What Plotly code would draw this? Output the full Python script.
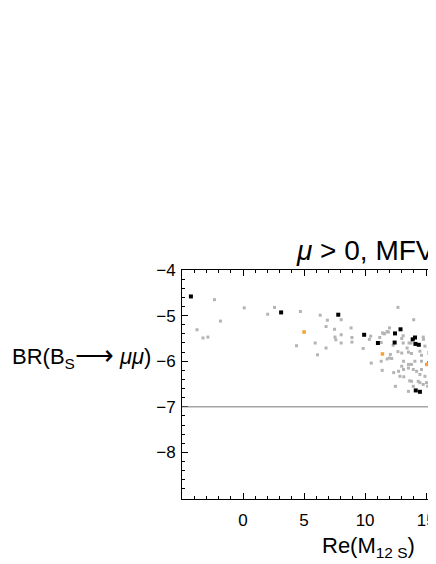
import plotly.graph_objects as go

# pontos cinza (todos os modelos)
cinza_x = [-2.34, 0.1, -1.85, -3.77, -3.28, -2.88,
           2.58, 2.02, 4.7, 6.32, 6.91, 6.8, 7.5, 7.53, 7.6, 5.91, 4.38, 6.8, 6.1,
           8.04, 8.85, 8.04, 8.92, 8.04, 8.92, 10.46, 10.35, 11.32, 11.43, 11.6, 11.8, 9.84,
           11.8, 11.32, 10.5, 11.4, 11.2, 11.53, 11.91, 11.99, 12.18,
           12.69, 13.98, 12.0, 13.12, 13.0, 13.12, 12.3, 14.76, 13.6, 13.76, 15.3, 13.44, 14.9,
           14.78, 15.35,
           12.69, 12.07, 13.0, 13.55, 13.8, 14.49, 14.62, 13.15, 13.55, 13.8, 14.08, 14.62,
           13.0, 13.15, 13.55, 13.95, 14.22, 14.62, 12.74, 12.34, 14.49, 14.9, 14.35, 14.49,
           14.76, 15.03, 13.8, 13.95, 13.55, 12.48, 15.3, 12.85, 13.17, 13.65, 15.13]
cinza_y = [-4.65, -4.83, -5.12, -5.31, -5.49, -5.47,
           -4.82, -4.97, -4.91, -4.99, -5.1, -5.24, -5.3, -5.47, -5.53, -5.6, -5.66, -5.71, -5.86,
           -5.09, -5.27, -5.42, -5.48, -5.6, -5.58, -5.45, -5.52, -5.59, -5.38, -5.4, -5.35, -5.72,
           -5.95, -6.0, -6.04, -6.2, -5.48, -5.39, -5.36, -5.93, -5.94,
           -4.82, -5.09, -5.27, -5.44, -5.5, -5.6, -5.65, -5.47, -5.6, -5.6, -5.51, -5.71, -5.67,
           -5.52, -5.52,
           -5.79, -5.85, -5.82, -5.8, -5.83, -5.78, -5.87, -6.0, -6.07, -6.07, -6.0, -6.0,
           -6.11, -6.18, -6.15, -6.18, -6.22, -6.18, -6.22, -6.25, -6.29, -6.33, -6.44, -6.47,
           -6.51, -6.47, -6.44, -6.55, -6.66, -6.55, -6.55, -6.33, -6.34, -6.43, -6.55]

# pontos pretos
preto_x = [-4.27, 3.12, 7.8, 9.92, 11.05, 12.45, 12.9, 12.42, 13.9, 14.09, 14.12, 14.4,
           15.3, 15.28, 14.15, 14.49]
preto_y = [-4.58, -4.93, -4.98, -5.42, -5.6, -5.39, -5.3, -5.59, -5.52, -5.48, -5.62, -5.64,
           -5.82, -6.04, -6.64, -6.67]

# pontos laranja
laranja_x = [5.0, 11.42, 15.05, 15.37]
laranja_y = [-5.36, -5.84, -6.07, -6.72]

limite = -7

fig = go.Figure()
fig.add_trace(go.Scatter(x=cinza_x, y=cinza_y, mode='markers',
                         marker=dict(symbol='square', size=3, color='#b4b4b4')))
fig.add_trace(go.Scatter(x=preto_x, y=preto_y, mode='markers',
                         marker=dict(symbol='square', size=4, color='black')))
fig.add_trace(go.Scatter(x=laranja_x, y=laranja_y, mode='markers',
                         marker=dict(symbol='square', size=3.5, color='#f7a030')))

fig.add_shape(type='line', xref='paper', x0=0, x1=1, yref='y', y0=limite, y1=limite,
              line=dict(color='#777777', width=1))

# a pagina tem margem de 8px no body, por isso tudo vai 8px pra cima/esquerda
fonte = 'Liberation Sans, Arial, sans-serif'
fig.update_layout(
    width=436, height=564,
    margin=dict(l=174, r=8, t=262, b=73),
    paper_bgcolor='white', plot_bgcolor='white',
    showlegend=False,
    font=dict(family=fonte, size=17, color='black'),
)
fig.update_xaxes(range=[-5, 15.48], showgrid=False, zeroline=False,
                 showline=True, linecolor='black', linewidth=1, mirror='ticks',
                 ticks='inside', ticklen=6, tickcolor='black',
                 tickvals=[0, 5, 10, 15], ticklabelstandoff=6, ticklabeloverflow='allow',
                 minor=dict(dtick=1, tick0=0, ticks='inside', ticklen=3, tickcolor='black'))
fig.update_yaxes(range=[-9.02, -4], showgrid=False, zeroline=False,
                 showline=True, linecolor='black', linewidth=1,
                 ticks='inside', ticklen=6, tickcolor='black',
                 tickvals=[-8, -7, -6, -5, -4], ticklabelstandoff=2, ticklabeloverflow='allow',
                 minor=dict(dtick=0.2, tick0=0, ticks='inside', ticklen=3, tickcolor='black'))

fig.add_annotation(text='<i>μ</i> > 0, MFV', xref='paper', yref='paper',
                   x=0.449, y=1.01, xanchor='left', yanchor='bottom', showarrow=False,
                   font=dict(size=28))
fig.add_annotation(text='BR(B<sub>S</sub><span style="font-size:27px">⟶</span> <i>μμ</i>)',
                   xref='paper', yref='paper',
                   x=-0.116, y=0.625, xanchor='right', yanchor='middle', showarrow=False,
                   font=dict(size=22))
fig.add_annotation(text='Re(M<sub>12 S</sub>)', xref='paper', yref='paper',
                   x=0.746, y=-0.21, xanchor='center', yanchor='middle', showarrow=False,
                   font=dict(size=22))

fig.write_html("out.html")
